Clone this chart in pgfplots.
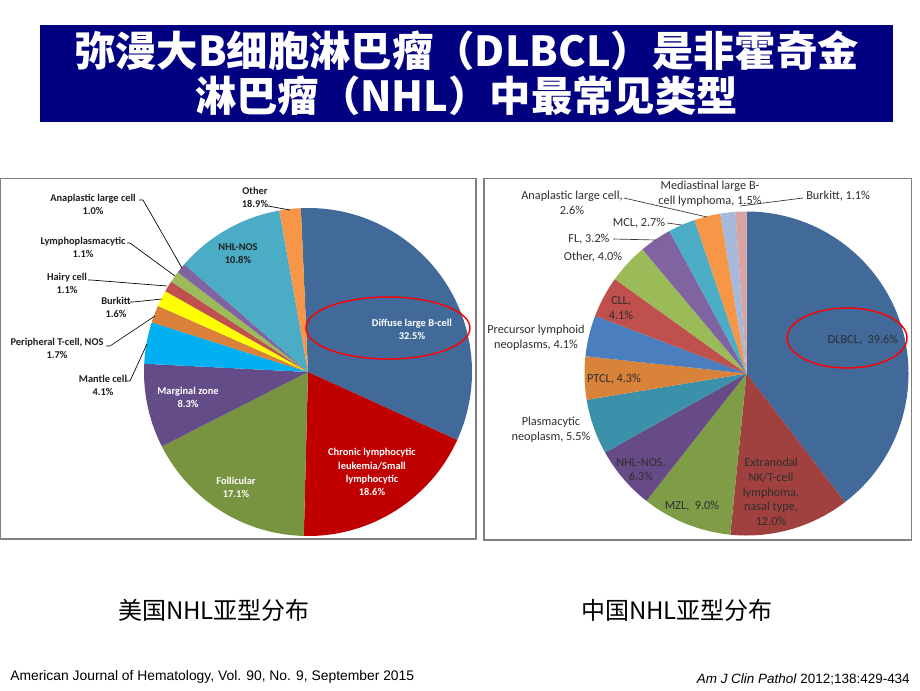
\documentclass[border=0pt]{standalone}
\usepackage{fontspec}
\setmainfont{Liberation Sans}
\newfontfamily\cjk{Noto Sans CJK SC}
\newfontfamily\lab{Carlito}
\usepackage{pgfplots}
\pgfplotsset{compat=1.18}

\definecolor{titlebg}{HTML}{000080}
% US subtypes
\definecolor{uA}{HTML}{416A9B}
\definecolor{uB}{HTML}{C00000}
\definecolor{uC}{HTML}{789440}
\definecolor{uD}{HTML}{644C88}
\definecolor{uE}{HTML}{00B0F0}
\definecolor{uF}{HTML}{D9803A}
\definecolor{uG}{HTML}{FFFF00}
\definecolor{uH}{HTML}{C0504D}
\definecolor{uI}{HTML}{9BBB59}
\definecolor{uJ}{HTML}{8064A2}
\definecolor{uK}{HTML}{4BACC6}
\definecolor{uL}{HTML}{F79646}
% China subtypes
\definecolor{cA}{HTML}{416A9B}
\definecolor{cB}{HTML}{A0413F}
\definecolor{cC}{HTML}{7F9C46}
\definecolor{cD}{HTML}{664B87}
\definecolor{cE}{HTML}{3C91AA}
\definecolor{cF}{HTML}{D9823A}
\definecolor{cG}{HTML}{4A7EBF}
\definecolor{cH}{HTML}{C0504D}
\definecolor{cI}{HTML}{9BBB59}
\definecolor{cJ}{HTML}{8064A2}
\definecolor{cK}{HTML}{4BACC6}
\definecolor{cL}{HTML}{F79646}
\definecolor{cM}{HTML}{A6B9DA}
\definecolor{cN}{HTML}{D9A3A2}

\pgfplotsset{pieaxis/.style={hide axis, x=0.75pt, y=0.75pt,
    xmin=-170, xmax=170, ymin=-170, ymax=170, anchor=origin, clip=false}}

\tikzset{
  ul/.style={font=\lab\bfseries\fontsize{7.8}{9.9}\selectfont, align=center, text=black!88, inner sep=0pt},
  uw/.style={ul, text=white},
  cl/.style={font=\lab\fontsize{9.2}{11}\selectfont, align=center, text=black!82, inner sep=0pt},
  ld/.style={black, line width=0.5pt},
  frame/.style={draw=black!50, line width=1.1pt}
}

\begin{document}
\begin{tikzpicture}[x=0.75pt,y=-0.75pt]
\useasboundingbox (0,0) rectangle (920,690);
\fill[white] (0,0) rectangle (920,690);
\coordinate (cu) at (308,372);
\coordinate (cc) at (746.5,373.5);

% title
\fill[titlebg] (40,25) rectangle (893,122);
\node[text=white, font=\cjk\bfseries\fontsize{31}{36}\selectfont] at (466.5,51) {弥漫大B细胞淋巴瘤（DLBCL）是非霍奇金};
\node[text=white, font=\cjk\bfseries\fontsize{31}{36}\selectfont] at (466.5,96) {淋巴瘤（NHL）中最常见类型};

\draw[frame] (0.5,178.5) rectangle (476,539);
\draw[frame] (484,178.5) rectangle (911.5,540);

% US pie
\begin{axis}[pieaxis, at={(cu)}]
\xdef\sa{92.5}
\foreach \v/\col in {32.5/uA, 18.6/uB, 17.1/uC, 8.3/uD, 4.1/uE, 1.7/uF,
                     1.6/uG, 1.1/uH, 1.1/uI, 1.0/uJ, 10.8/uK, 2.1/uL}{
  \pgfmathsetmacro\ea{\sa-3.6*\v}
  \edef\temp{\noexpand\fill[\col] (axis cs:0,0) -- (axis cs:{164*cos(\sa)},{164*sin(\sa)})
    arc[start angle=\sa, end angle=\ea, radius=123pt] -- cycle;}
  \temp
  \xdef\sa{\ea}
}
\end{axis}

% China pie
\begin{axis}[pieaxis, at={(cc)}]
\xdef\sa{90}
\foreach \v/\col in {39.6/cA, 12.0/cB, 9.0/cC, 6.3/cD, 5.5/cE, 4.3/cF, 4.1/cG,
                     4.1/cH, 4.0/cI, 3.2/cJ, 2.7/cK, 2.6/cL, 1.5/cM, 1.1/cN}{
  \pgfmathsetmacro\ea{\sa-3.6*\v}
  \edef\temp{\noexpand\fill[\col] (axis cs:0,0) -- (axis cs:{162*cos(\sa)},{162*sin(\sa)})
    arc[start angle=\sa, end angle=\ea, radius=121.5pt] -- cycle;}
  \temp
  \xdef\sa{\ea}
}
\end{axis}

% US labels
\node[ul] at (93,204.5) {Anaplastic large cell\\1.0\%};
\node[ul] at (83,247.5) {Lymphoplasmacytic\\1.1\%};
\node[ul] at (67,283.5) {Hairy cell\\1.1\%};
\node[ul] at (116,307.5) {Burkitt\\1.6\%};
\node[ul] at (57,348.5) {Peripheral T-cell, NOS\\1.7\%};
\node[ul] at (103,385) {Mantle cell\\4.1\%};
\node[ul] at (255,197) {Other\\18.9\%};
\node[ul] at (238,254) {NHL-NOS\\10.8\%};
\node[uw] at (412,329) {Diffuse large B-cell\\32.5\%};
\node[uw] at (188,397) {Marginal zone\\8.3\%};
\node[uw] at (236,487) {Follicular\\17.1\%};
\node[uw] at (372,472) {Chronic lymphocytic\\leukemia/Small\\lymphocytic\\18.6\%};
\draw[ld] (139,200) -- (143,200) -- (182,268);
\draw[ld] (127,243) -- (130,243) -- (175,276);
\draw[ld] (88,280) -- (91,280) -- (167,286);
\draw[ld] (130,302) -- (133,302) -- (162,299);
\draw[ld] (106,346) -- (110,346) -- (155,316);
\draw[ld] (126,381) -- (130,381) -- (147,344);
\draw[ld] (268,206) -- (290,210);

% China labels
\node[cl] at (572,202.5) {Anaplastic large cell,\\2.6\%};
\node[cl] at (710,194) {Mediastinal large B-\\cell lymphoma, 1.5\%};
\node[cl, anchor=west] at (806,196) {Burkitt, 1.1\%};
\node[cl] at (639,223) {MCL, 2.7\%};
\node[cl] at (589,239) {FL, 3.2\%};
\node[cl] at (593,257) {Other, 4.0\%};
\node[cl] at (621,308) {CLL,\\4.1\%};
\node[cl] at (536,337.5) {Precursor lymphoid\\neoplasms, 4.1\%};
\node[cl] at (614,379) {PTCL, 4.3\%};
\node[cl] at (551,430) {Plasmacytic\\neoplasm, 5.5\%};
\node[cl] at (641,469.5) {NHL-NOS,\\6.3\%};
\node[cl] at (692,506) {MZL,\ \ 9.0\%};
\node[cl] at (771,492) {Extranodal\\NK/T-cell\\lymphoma,\\nasal type,\\12.0\%};
\node[cl] at (863,340) {DLBCL,\ \ 39.6\%};
\draw[ld, black!80] (624,198) -- (707,217);
\draw[ld, black!80] (803,198) -- (740,206);
\draw[ld, black!80] (667,223) -- (682,225);
\draw[ld, black!80] (613,239) -- (656,240);

% highlight ellipses
\draw[red, line width=1.1pt] (388,328) ellipse [x radius=82, y radius=31];
\draw[red, line width=1.1pt] (847,338) ellipse [x radius=60, y radius=30];

% captions
\node[font=\cjk\fontsize{18}{20}\selectfont] at (214,610) {美国NHL亚型分布};
\node[font=\cjk\fontsize{18}{20}\selectfont] at (677,610) {中国NHL亚型分布};
\node[font=\fontsize{10.4}{12}\selectfont, anchor=west, inner sep=0pt] at (10,677) {American Journal of Hematology, Vol. 90, No. 9, September 2015};
\node[font=\fontsize{10.1}{12}\selectfont, anchor=east, inner sep=0pt] at (910,679) {\textit{Am J Clin Pathol} 2012;138:429-434};
\end{tikzpicture}
\end{document}
